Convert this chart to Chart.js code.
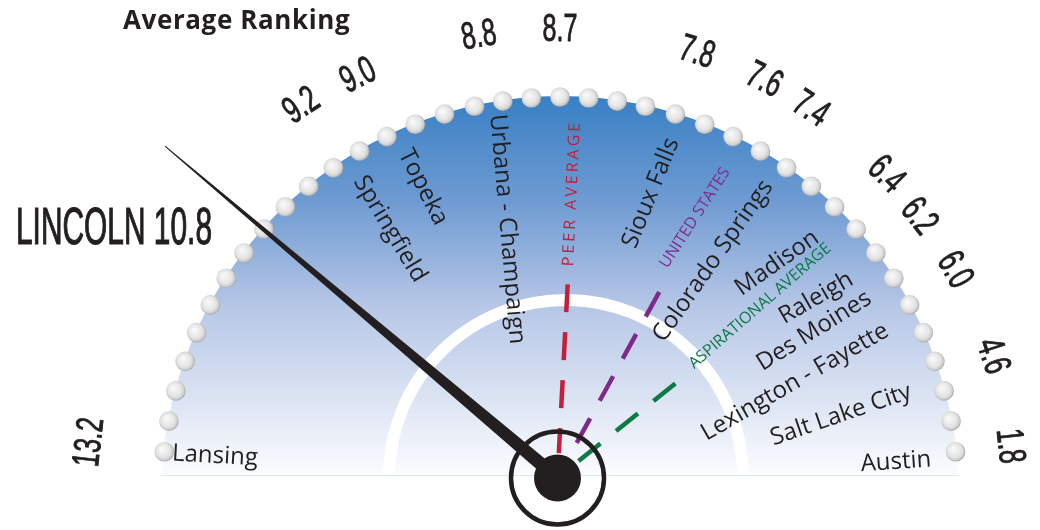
<!DOCTYPE html>
<html>
<head>
<meta charset="utf-8">
<script src="https://cdn.jsdelivr.net/npm/chart.js@4.4.1/dist/chart.umd.min.js"></script>
<style>
  html, body { margin: 0; padding: 0; background: #fff; }
  #wrap { width: 1040px; height: 530px; position: relative; }
</style>
</head>
<body>
<div id="wrap"><canvas id="gauge"></canvas></div>
<script>
// ---- data ----
var cities = ['Lansing', 'Springfield', 'Topeka', 'Urbana - Champaign', 'Sioux Falls', 'Colorado Springs',
              'Madison', 'Raleigh', 'Des Moines', 'Lexington - Fayette', 'Salt Lake City', 'Austin'];
var rankLabels = ['13.2', '9.2', '9.0', '8.8', '8.7', '7.8', '7.6', '7.4', '6.4', '6.2', '6.0', '4.6', '1.8'];
var benchmarks = ['PEER AVERAGE', 'UNITED STATES', 'ASPIRATIONAL AVERAGE'];
var benchmarkValues = [7.3, 5.6, 4.1];
var cityName = 'LINCOLN';
var cityValue = 10.8;
var rankMin = 1.8, rankMax = 13.2;

// ---- layout (pixels / degrees), placed like the original artwork ----
var HUB = {x: 557.5, y: 478};
var RIM = {x: 560, y: 495, r: 399};
var BASE_Y = 475;
var ANG_LO = 4, ANG_HI = 176;
var tickAngles = [173.6, 123.6, 115.7, 100, 90, 72.8, 63.8, 57, 44.5, 37.8, 29.7, 17.8, 6.2];
var tickRadius = [476, 470, 468, 469, 468, 466, 465, 463, 460, 457, 457, 457, 455];
// [centre x, centre y, rotation]
var cityPos = [[215, 456, 3], [390, 229, 59], [423, 187, 63], [507, 229, 85], [651, 193, -68], [713, 261, -55],
               [777, 263, -35], [816, 298, -30], [814, 331, -32], [795, 382, -30], [841, 415, -19], [896, 462, -4]];
var benchPos = [[572, 193, -87.2], [695, 218, -57], [760, 306, -41]];
var benchColors = ['#c41e3a', '#7e2a8a', '#0b7a45'];
var lineOuter = [194, 212, 151];
var lineInner = [25, 33, 25];
var INK = '#231f20';

function rankToAngle(v) {
  return ANG_LO + (v - rankMin) / (rankMax - rankMin) * (ANG_HI - ANG_LO);
}
function polar(c, r, deg) {
  var a = deg * Math.PI / 180;
  return {x: c.x + r * Math.cos(a), y: c.y - r * Math.sin(a)};
}
// bead offsets from the top: a little tighter near the crown, as in the artwork
function beadOffset(k) {
  return k <= 3 ? k * 4.13 : 12.4 + (k - 3) * 4.46;
}

var datasets = benchmarks.map(function (name, i) {
  var ang = rankToAngle(benchmarkValues[i]);
  return {
    label: name,
    data: [polar(HUB, lineOuter[i], ang), polar(HUB, lineInner[i], ang)],
    showLine: true,
    borderColor: benchColors[i],
    borderWidth: 4.5,
    borderDash: [28, 20],
    borderCapStyle: 'butt',
    pointRadius: 0
  };
});
datasets.push({
  label: cityName,
  data: [{x: HUB.x, y: HUB.y}, polar(HUB, 514, rankToAngle(cityValue))],
  showLine: false,
  pointRadius: 0
});

function squeeze(ctx, txt, x, y, rot, size, sx) {
  ctx.save();
  ctx.translate(x, y);
  ctx.rotate(rot * Math.PI / 180);
  ctx.scale(sx, 1);
  ctx.font = size + 'px "Liberation Sans"';
  ctx.textAlign = 'center';
  ctx.textBaseline = 'alphabetic';
  ctx.fillStyle = INK;
  ctx.strokeStyle = INK;
  ctx.lineWidth = 0.9;
  ctx.fillText(txt, 0, size * 0.36);
  ctx.strokeText(txt, 0, size * 0.36);
  ctx.restore();
}
function rotText(ctx, txt, x, y, rot, font, color, spacing) {
  ctx.save();
  ctx.translate(x, y);
  ctx.rotate(rot * Math.PI / 180);
  ctx.font = font;
  ctx.letterSpacing = spacing || '0px';
  ctx.textAlign = 'center';
  ctx.textBaseline = 'middle';
  ctx.fillStyle = color;
  ctx.fillText(txt, 0, 0);
  ctx.restore();
}

var gaugePlugin = {
  id: 'gauge',
  beforeDatasetsDraw: function (chart) {
    var ctx = chart.ctx;
    var sx = chart.scales.x, sy = chart.scales.y;
    var cx = sx.getPixelForValue(RIM.x), cy = sy.getPixelForValue(RIM.y);
    var by = sy.getPixelForValue(BASE_Y);

    // blue face
    ctx.save();
    ctx.beginPath();
    ctx.rect(0, 0, chart.width, by);
    ctx.clip();
    var g = ctx.createLinearGradient(0, cy - RIM.r, 0, by);
    g.addColorStop(0, '#3880c4');
    g.addColorStop(0.28, '#6f9bd2');
    g.addColorStop(0.55, '#b5c6e6');
    g.addColorStop(1, '#fbfcfe');
    ctx.beginPath();
    ctx.arc(cx, cy, RIM.r, 0, Math.PI * 2);
    ctx.fillStyle = g;
    ctx.fill();
    ctx.restore();
    var dx = Math.sqrt(RIM.r * RIM.r - (cy - by) * (cy - by));
    ctx.strokeStyle = '#dce8ef';
    ctx.lineWidth = 1;
    ctx.beginPath();
    ctx.moveTo(cx - dx, by + 0.5);
    ctx.lineTo(cx + dx, by + 0.5);
    ctx.stroke();

    // white inner arc
    ctx.beginPath();
    ctx.arc(sx.getPixelForValue(566), sy.getPixelForValue(477), 177, Math.PI * 1.005, Math.PI * 1.995);
    ctx.strokeStyle = '#ffffff';
    ctx.lineWidth = 12;
    ctx.stroke();

    // rim beads
    for (var k = -19; k <= 19; k++) {
      var off = beadOffset(Math.abs(k)) * (k < 0 ? -1 : 1);
      var p = polar({x: cx, y: cy}, RIM.r - 1, 90 + off);
      var bg = ctx.createRadialGradient(p.x - 2.5, p.y - 3, 1, p.x - 0.5, p.y - 0.5, 10.2);
      bg.addColorStop(0, '#f8f8f8');
      bg.addColorStop(0.65, '#e4e4e4');
      bg.addColorStop(0.88, '#cdcdcd');
      bg.addColorStop(1, '#a9a9a9');
      ctx.beginPath();
      ctx.arc(p.x, p.y, 9.8, 0, Math.PI * 2);
      ctx.fillStyle = bg;
      ctx.fill();
    }

    // city names
    cities.forEach(function (name, i) {
      var c = cityPos[i];
      rotText(ctx, name, sx.getPixelForValue(c[0]), sy.getPixelForValue(c[1]), c[2], '24px "Open Sans"', INK);
    });
    // benchmark names
    benchmarks.forEach(function (name, i) {
      var c = benchPos[i];
      rotText(ctx, name, sx.getPixelForValue(c[0]), sy.getPixelForValue(c[1]), c[2],
        (i === 0 ? '16px' : '16px') + ' "Open Sans"', benchColors[i], i === 0 ? '3px' : '0px');
    });
    // rank ticks
    rankLabels.forEach(function (t, i) {
      var p = polar({x: cx, y: cy}, tickRadius[i], tickAngles[i]);
      squeeze(ctx, t, p.x, p.y, 90 - tickAngles[i], 38, 0.66);
    });
    // title
    ctx.save();
    ctx.font = 'bold 26px "Open Sans"';
    ctx.letterSpacing = '0.6px';
    ctx.fillStyle = INK;
    ctx.textBaseline = 'alphabetic';
    ctx.fillText('Average Ranking', 123, 29);
    ctx.restore();
  },
  afterDatasetsDraw: function (chart) {
    var ctx = chart.ctx;
    var meta = chart.getDatasetMeta(chart.data.datasets.length - 1);
    var a = meta.data[0], b = meta.data[1];
    var ang = Math.atan2(b.y - a.y, b.x - a.x);
    var nx = -Math.sin(ang), ny = Math.cos(ang);
    ctx.save();
    ctx.fillStyle = INK;
    ctx.beginPath();
    ctx.moveTo(a.x + nx * 7, a.y + ny * 7);
    ctx.lineTo(b.x + nx * 0.5, b.y + ny * 0.5);
    ctx.lineTo(b.x - nx * 0.5, b.y - ny * 0.5);
    ctx.lineTo(a.x - nx * 7, a.y - ny * 7);
    ctx.closePath();
    ctx.fill();
    // hub
    ctx.beginPath();
    ctx.arc(a.x, a.y, 46.5, 0, Math.PI * 2);
    ctx.strokeStyle = INK;
    ctx.lineWidth = 4.5;
    ctx.stroke();
    ctx.beginPath();
    ctx.arc(a.x, a.y, 23.5, 0, Math.PI * 2);
    ctx.fill();
    ctx.restore();

    // Lincoln label
    ctx.save();
    var txt = cityName + ' ' + cityValue.toFixed(1);
    ctx.font = '52px "Liberation Sans"';
    var w = ctx.measureText(txt).width;
    ctx.translate(16, 244);
    ctx.scale(196 / w, 1);
    ctx.fillStyle = INK;
    ctx.strokeStyle = INK;
    ctx.lineWidth = 1.2;
    ctx.fillText(txt, 0, 0);
    ctx.strokeText(txt, 0, 0);
    ctx.restore();
  }
};

new Chart(document.getElementById('gauge'), {
  type: 'scatter',
  data: {datasets: datasets},
  options: {
    responsive: true,
    maintainAspectRatio: false,
    animation: false,
    layout: {padding: 0},
    scales: {
      x: {type: 'linear', min: 0, max: 1040, display: false},
      y: {type: 'linear', min: 0, max: 530, reverse: true, display: false}
    },
    plugins: {legend: {display: false}, tooltip: {enabled: false}}
  },
  plugins: [gaugePlugin]
});
</script>
</body>
</html>
